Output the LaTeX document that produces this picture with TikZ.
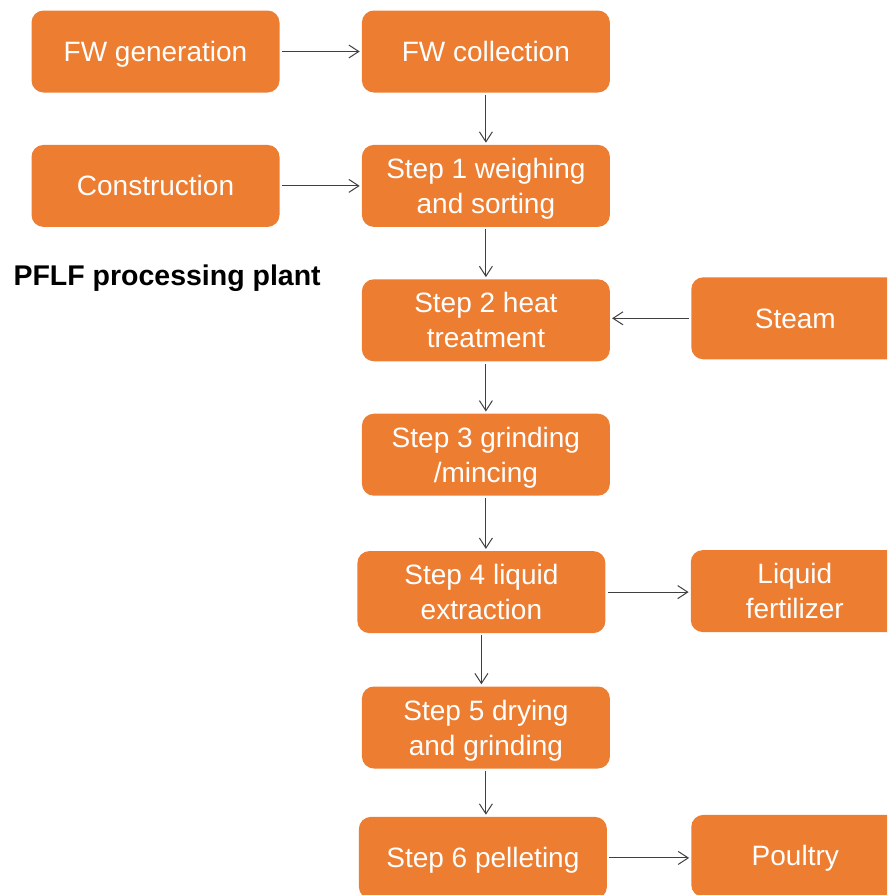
\documentclass[tikz,border=0pt]{standalone}
\usepackage{fontspec}
\setmainfont{Liberation Sans}
\usetikzlibrary{positioning,arrows.meta}
\definecolor{boxorange}{HTML}{ED7D31}
\definecolor{arrowgray}{HTML}{404040}
\newcommand\boxstrut{\rule[-7pt]{0pt}{34pt}}

\begin{document}
\begin{tikzpicture}[x=1pt,y=-1pt,
  stepbox/.style={fill=boxorange, rounded corners=12pt, text=white,
    minimum width=248pt, minimum height=82pt, inner sep=0pt,
    align=center, font=\fontsize{28}{35}\selectfont,
    execute at begin node=\boxstrut, execute at end node=\boxstrut},
  sidebox/.style={stepbox, minimum width=208pt},
  flow/.style={-{Straight Barb[length=10pt,width=13pt]}, draw=arrowgray,
    line width=1pt, shorten >=2pt, shorten <=2pt}]
  %Page frame, the right column is cut off at the edge.
  \useasboundingbox (0,0) rectangle (887,895);
  \clip (0,0) rectangle (887,895);
  %Top rows: source and collection.
  \node[stepbox] (gen) at (155.5,51.5) {FW generation};
  \node[stepbox, right=82pt of gen] (coll) {FW collection};
  \node[stepbox, below=52pt of coll] (step1) {\boxstrut Step 1 weighing\\and sorting};
  \node[stepbox, left=82pt of step1] (constr) {Construction};
  %The plant label
  \node[anchor=west, font=\bfseries\fontsize{28.5}{34}\selectfont] (plant) at (10,278) {PFLF processing plant};
  %Processing steps, one below the other.
  \node[stepbox, below=52pt of step1] (step2) {\boxstrut Step 2 heat\\treatment};
  \node[stepbox, below=52pt of step2] (step3) {\boxstrut Step 3 grinding\\/mincing};
  \node[stepbox, below=55pt of step3, xshift=-4.5pt] (step4) {\boxstrut Step 4 liquid\\extraction};
  \node[stepbox, below=53pt of step4, xshift=4.5pt] (step5) {\boxstrut Step 5 drying\\and grinding};
  \node[stepbox, below=48pt of step5, xshift=-3pt] (step6) {Step 6 pelleting};
  %Inputs and outputs on the right.
  \node[sidebox, right=81pt of step2, yshift=2pt] (steam) {Steam};
  \node[sidebox, right=85pt of step4, yshift=1pt] (liquid) {\boxstrut Liquid\\fertilizer};
  \node[sidebox, right=84pt of step6, yshift=2pt] (poultry) {Poultry};

  %Connectors
  \draw[flow] (gen) -- (coll);
  \draw[flow] (constr) -- (step1);
  \draw[flow] (coll) -- (step1);
  \draw[flow] (step1) -- (step2);
  \draw[flow] (steam) -- (steam -| step2.east);
  \draw[flow] (step2) -- (step3);
  \draw[flow] (step3) -- (step3 |- step4.north);
  \draw[flow] (step4) -- (step4 -| liquid.west);
  \draw[flow] (step4) -- (step4 |- step5.north);
  \draw[flow] (step5) -- (step5 |- step6.north);
  \draw[flow] (step6) -- (step6 -| poultry.west);
\end{tikzpicture}
\end{document}
